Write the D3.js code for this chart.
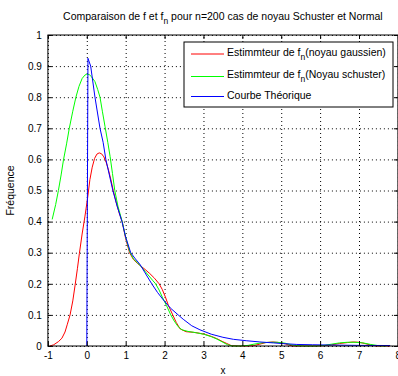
<!DOCTYPE html>
<html>
<head>
<meta charset="utf-8">
<script src="https://cdn.jsdelivr.net/npm/d3@7"></script>
<style>
  body { margin: 0; background: #fff; }
  svg { display: block; font-family: "Liberation Sans", Arial, sans-serif; }
</style>
</head>
<body>
<svg id="chart" width="398" height="376"></svg>
<script>
// data
var xTicks = [-1, 0, 1, 2, 3, 4, 5, 6, 7, 8];
var xTickLabels = ["-1", "0", "1", "2", "3", "4", "5", "6", "7", "8"];
var yTicks = [0, 0.1, 0.2, 0.3, 0.4, 0.5, 0.6, 0.7, 0.8, 0.9, 1];
var yTickLabels = ["0", "0.1", "0.2", "0.3", "0.4", "0.5", "0.6", "0.7", "0.8", "0.9", "1"];

// gaussian kernel estimate
var gaussX = [-0.95,-0.85,-0.73,-0.64,-0.56,-0.5,-0.43,-0.36,-0.3,-0.24,-0.19,-0.12,-0.05,0.02,0.08,0.14,0.2,0.26,0.32,0.38,0.44,0.5,0.56,0.62,0.68,0.76,0.84,0.91,1.0,1.1,1.2,1.3,1.4,1.5,1.62,1.74,1.86,1.94,2.02,2.1,2.21,2.3,2.4,2.55,2.74,2.9,3.05,3.2,3.34,3.48,3.6,3.72,3.9,4.1,4.28,4.45,4.6,4.79,4.95,5.1,5.22,5.31,5.6,5.91,6.1,6.3,6.5,6.7,6.85,7.0,7.15,7.3,7.45,7.6,7.8];
var gaussY = [0,0.004,0.014,0.025,0.045,0.07,0.1,0.145,0.196,0.25,0.298,0.36,0.415,0.475,0.535,0.575,0.603,0.617,0.621,0.618,0.608,0.59,0.565,0.535,0.5,0.46,0.425,0.4,0.345,0.3,0.278,0.266,0.256,0.246,0.233,0.218,0.2,0.182,0.158,0.13,0.1,0.076,0.055,0.046,0.044,0.041,0.037,0.031,0.024,0.015,0.008,0.001,0,0,0.001,0.006,0.011,0.013,0.011,0.007,0.002,0,0,0,0.001,0.004,0.008,0.011,0.013,0.012,0.008,0.003,0,0,0];

// schuster kernel estimate
var schX = [-0.89,-0.8,-0.73,-0.66,-0.6,-0.52,-0.45,-0.36,-0.28,-0.2,-0.12,-0.05,0.0,0.06,0.12,0.21,0.28,0.34,0.4,0.47,0.54,0.6,0.66,0.72,0.8,0.91,1.0,1.1,1.2,1.3,1.4,1.5,1.6,1.7,1.77,1.86,1.95,2.05,2.16,2.25,2.35,2.45,2.6,2.8,3.0,3.2,3.35,3.5,3.62,3.75,3.95,4.15,4.3,4.5,4.7,4.9,5.1,5.25,5.4,5.6,5.9,6.1,6.3,6.5,6.7,6.9,7.1,7.3,7.5,7.7];
var schY = [0.407,0.455,0.5,0.55,0.598,0.65,0.7,0.755,0.8,0.835,0.86,0.871,0.874,0.873,0.866,0.85,0.825,0.8,0.755,0.705,0.655,0.609,0.555,0.5,0.45,0.4,0.35,0.305,0.28,0.268,0.255,0.24,0.225,0.21,0.2,0.18,0.155,0.13,0.1,0.08,0.062,0.052,0.047,0.043,0.038,0.03,0.022,0.012,0.004,0,0,0.002,0.006,0.01,0.012,0.012,0.009,0.004,0.001,0,0,0.002,0.006,0.01,0.012,0.012,0.01,0.005,0.001,0];

// theoretical curve
var theoX = [0,0.03,0.1,0.21,0.34,0.42,0.49,0.58,0.67,0.78,0.905,1.0,1.13,1.25,1.37,1.5,1.67,1.82,1.97,2.15,2.35,2.48,2.7,2.91,3.2,3.5,3.77,4.1,4.45,4.8,5.05,5.4,5.8,6.3,7.0,7.8];
var theoY = [0,0.925,0.9,0.8,0.7,0.655,0.6,0.55,0.5,0.45,0.4,0.35,0.3,0.28,0.262,0.235,0.2,0.172,0.148,0.122,0.1,0.086,0.065,0.052,0.038,0.028,0.0215,0.017,0.013,0.01,0.0077,0.005,0.004,0.003,0.002,0.0015];

var series = [
  {name: "gauss", xs: gaussX, ys: gaussY, color: "#ff0000", pre: "Estimmteur de f", post: "(noyau gaussien)"},
  {name: "schuster", xs: schX, ys: schY, color: "#00ff00", pre: "Estimmteur de f", post: "(Noyau schuster)"},
  {name: "theo", xs: theoX, ys: theoY, color: "#0000ff", pre: "Courbe Théorique", post: null}
];

var svg = d3.select("#chart");
var pLeft = 47.9, pRight = 397.9, pTop = 35, pBottom = 346;

var x = d3.scaleLinear().domain([-1, 8]).range([pLeft, pRight]);
var y = d3.scaleLinear().domain([0, 1]).range([pBottom, pTop]);

// grid
var gridX = svg.append("g").attr("transform", "translate(0," + pBottom + ")")
  .call(d3.axisBottom(x).tickValues(xTicks).tickSize(-(pBottom - pTop)).tickFormat(""));
var gridY = svg.append("g").attr("transform", "translate(" + pLeft + ",0)")
  .call(d3.axisLeft(y).tickValues(yTicks).tickSize(-(pRight - pLeft)).tickFormat(""));
[gridX, gridY].forEach(function(g){
  g.select(".domain").remove();
  g.selectAll("line").attr("stroke", "#000").attr("stroke-dasharray", "1,3").attr("stroke-width", 1);
});

// curves
var line = d3.line().x(function(d){ return x(d[0]); }).y(function(d){ return y(d[1]); });
series.forEach(function(s){
  var pts = s.xs.map(function(v, i){ return [v, s.ys[i]]; });
  svg.append("path")
    .datum(pts)
    .attr("d", line)
    .attr("fill", "none")
    .attr("stroke", s.color)
    .attr("stroke-width", 1);
});

// axes with inner ticks
var axB = svg.append("g").attr("transform", "translate(0," + pBottom + ")")
  .call(d3.axisBottom(x).tickValues(xTicks).tickSizeInner(-4).tickSizeOuter(0).tickPadding(6)
    .tickFormat(function(d, i){ return xTickLabels[i]; }));
var axL = svg.append("g").attr("transform", "translate(" + pLeft + ",0)")
  .call(d3.axisLeft(y).tickValues(yTicks).tickSizeInner(-4).tickSizeOuter(0).tickPadding(6)
    .tickFormat(function(d, i){ return yTickLabels[i]; }));
var axT = svg.append("g").attr("transform", "translate(0," + pTop + ")")
  .call(d3.axisTop(x).tickValues(xTicks).tickSizeInner(-4).tickSizeOuter(0).tickFormat(""));
var axR = svg.append("g").attr("transform", "translate(" + pRight + ",0)")
  .call(d3.axisRight(y).tickValues(yTicks).tickSizeInner(-4).tickSizeOuter(0).tickFormat(""));
[axB, axL, axT, axR].forEach(function(g){
  g.select(".domain").remove();
  g.selectAll("line").attr("stroke", "#000");
  g.selectAll("text").attr("font-size", 10).attr("fill", "#000")
    .attr("font-family", "Liberation Sans, Arial, sans-serif");
});

svg.append("rect")
  .attr("x", pLeft).attr("y", pTop)
  .attr("width", pRight - pLeft).attr("height", pBottom - pTop)
  .attr("fill", "none").attr("stroke", "#000");

// title
var title = svg.append("text")
  .attr("x", (pLeft + pRight) / 2).attr("y", 20)
  .attr("text-anchor", "middle").attr("font-size", 10.5);
title.append("tspan").text("Comparaison de f et f");
title.append("tspan").attr("font-size", 8.5).attr("dy", 4).text("n");
title.append("tspan").attr("dy", -4).text(" pour n=200 cas de noyau Schuster et Normal");

// axis labels
svg.append("text")
  .attr("x", (pLeft + pRight) / 2).attr("y", 374)
  .attr("text-anchor", "middle").attr("font-size", 10).text("x");
svg.append("text")
  .attr("transform", "translate(14," + ((pTop + pBottom) / 2) + ") rotate(-90)")
  .attr("text-anchor", "middle").attr("font-size", 10.5).text("Fréquence");

// legend
var lg = svg.append("g");
lg.append("rect")
  .attr("x", 184).attr("y", 42).attr("width", 209).attr("height", 65)
  .attr("fill", "#fff").attr("stroke", "#000");
var rowY = [54, 76.5, 96.5];
series.forEach(function(s, i){
  lg.append("line")
    .attr("x1", 191).attr("x2", 224)
    .attr("y1", rowY[i]).attr("y2", rowY[i])
    .attr("stroke", s.color);
  var t = lg.append("text")
    .attr("x", 227).attr("y", rowY[i] + 2 - (i === 2 ? 0 : 0.5))
    .attr("font-size", 10.5);
  t.append("tspan").text(s.pre);
  if (s.post) {
    t.append("tspan").attr("font-size", 8.5).attr("dy", 4).text("n");
    t.append("tspan").attr("dy", -4).text(s.post);
  }
});
</script>
</body>
</html>
